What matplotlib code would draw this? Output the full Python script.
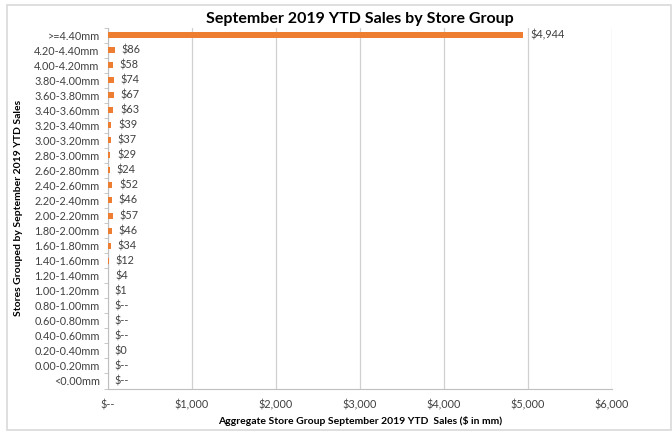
import matplotlib.pyplot as plt
from matplotlib.patches import Rectangle

# store groups (top to bottom) and YTD sales in $mm
groups = [">=4.40mm", "4.20-4.40mm", "4.00-4.20mm", "3.80-4.00mm", "3.60-3.80mm",
          "3.40-3.60mm", "3.20-3.40mm", "3.00-3.20mm", "2.80-3.00mm", "2.60-2.80mm",
          "2.40-2.60mm", "2.20-2.40mm", "2.00-2.20mm", "1.80-2.00mm", "1.60-1.80mm",
          "1.40-1.60mm", "1.20-1.40mm", "1.00-1.20mm", "0.80-1.00mm", "0.60-0.80mm",
          "0.40-0.60mm", "0.20-0.40mm", "0.00-0.20mm", "<0.00mm"]
sales = [4944, 86, 58, 74, 67, 63, 39, 37, 29, 24, 52, 46, 57, 46, 34,
         12, 4, 1, 0, 0, 0, 0.2, 0, 0]
xticks = [0, 1000, 2000, 3000, 4000, 5000, 6000]


def money(v):
    if v == 0:
        return "$--"
    return "${:,.0f}".format(v)


plt.rcParams['font.family'] = ['Lato', 'DejaVu Sans']

fig = plt.figure(figsize=(6.72, 4.33), dpi=100)
ax = fig.add_axes([108 / 672, 1 - 388.5 / 433, 504 / 672, 361 / 433])

y = list(range(len(groups)))
ax.barh(y, sales, height=0.4, color="#ED7D31", zorder=3)
for yi, v in zip(y, sales):
    ax.text(v + 80, yi, money(v), va="center", ha="left", fontsize=7.8, color="#404040")

ax.set_ylim(len(groups) - 0.5, -0.5)
ax.set_yticks(y)
ax.set_yticklabels(groups, fontsize=7.8, color="#404040")
ax.set_yticks([i - 0.5 for i in range(len(groups) + 1)], minor=True)
ax.tick_params(axis="y", which="major", length=0, pad=6)
ax.tick_params(axis="y", which="minor", length=3, color="#bfbfbf")

ax.set_xlim(0, 6000)
ax.set_xticks(xticks)
ax.set_xticklabels([money(t) for t in xticks], fontsize=7.8, color="#404040")
ax.tick_params(axis="x", length=0, pad=8)
ax.grid(axis="x", color="#d0d0d0", linewidth=0.9, zorder=0)

for s in ["top", "right"]:
    ax.spines[s].set_visible(False)
for s in ["left", "bottom"]:
    ax.spines[s].set_color("#bfbfbf")

ax.set_title("September 2019 YTD Sales by Store Group", fontsize=11.5,
             fontweight="bold", pad=3)
ax.set_xlabel("Aggregate Store Group September 2019 YTD  Sales ($ in mm)",
              fontsize=7.5, fontweight="bold", labelpad=4)
ax.set_ylabel("Stores Grouped by September 2019 YTD Sales", fontsize=7.5,
              fontweight="bold", labelpad=8)

# light chart frame
fig.patches.append(Rectangle((7 / 672, 3 / 433), 664 / 672, 425 / 433,
                             transform=fig.transFigure, fill=False,
                             edgecolor="#d9d9d9", linewidth=1.2))

fig.savefig("out.png", dpi=100)
